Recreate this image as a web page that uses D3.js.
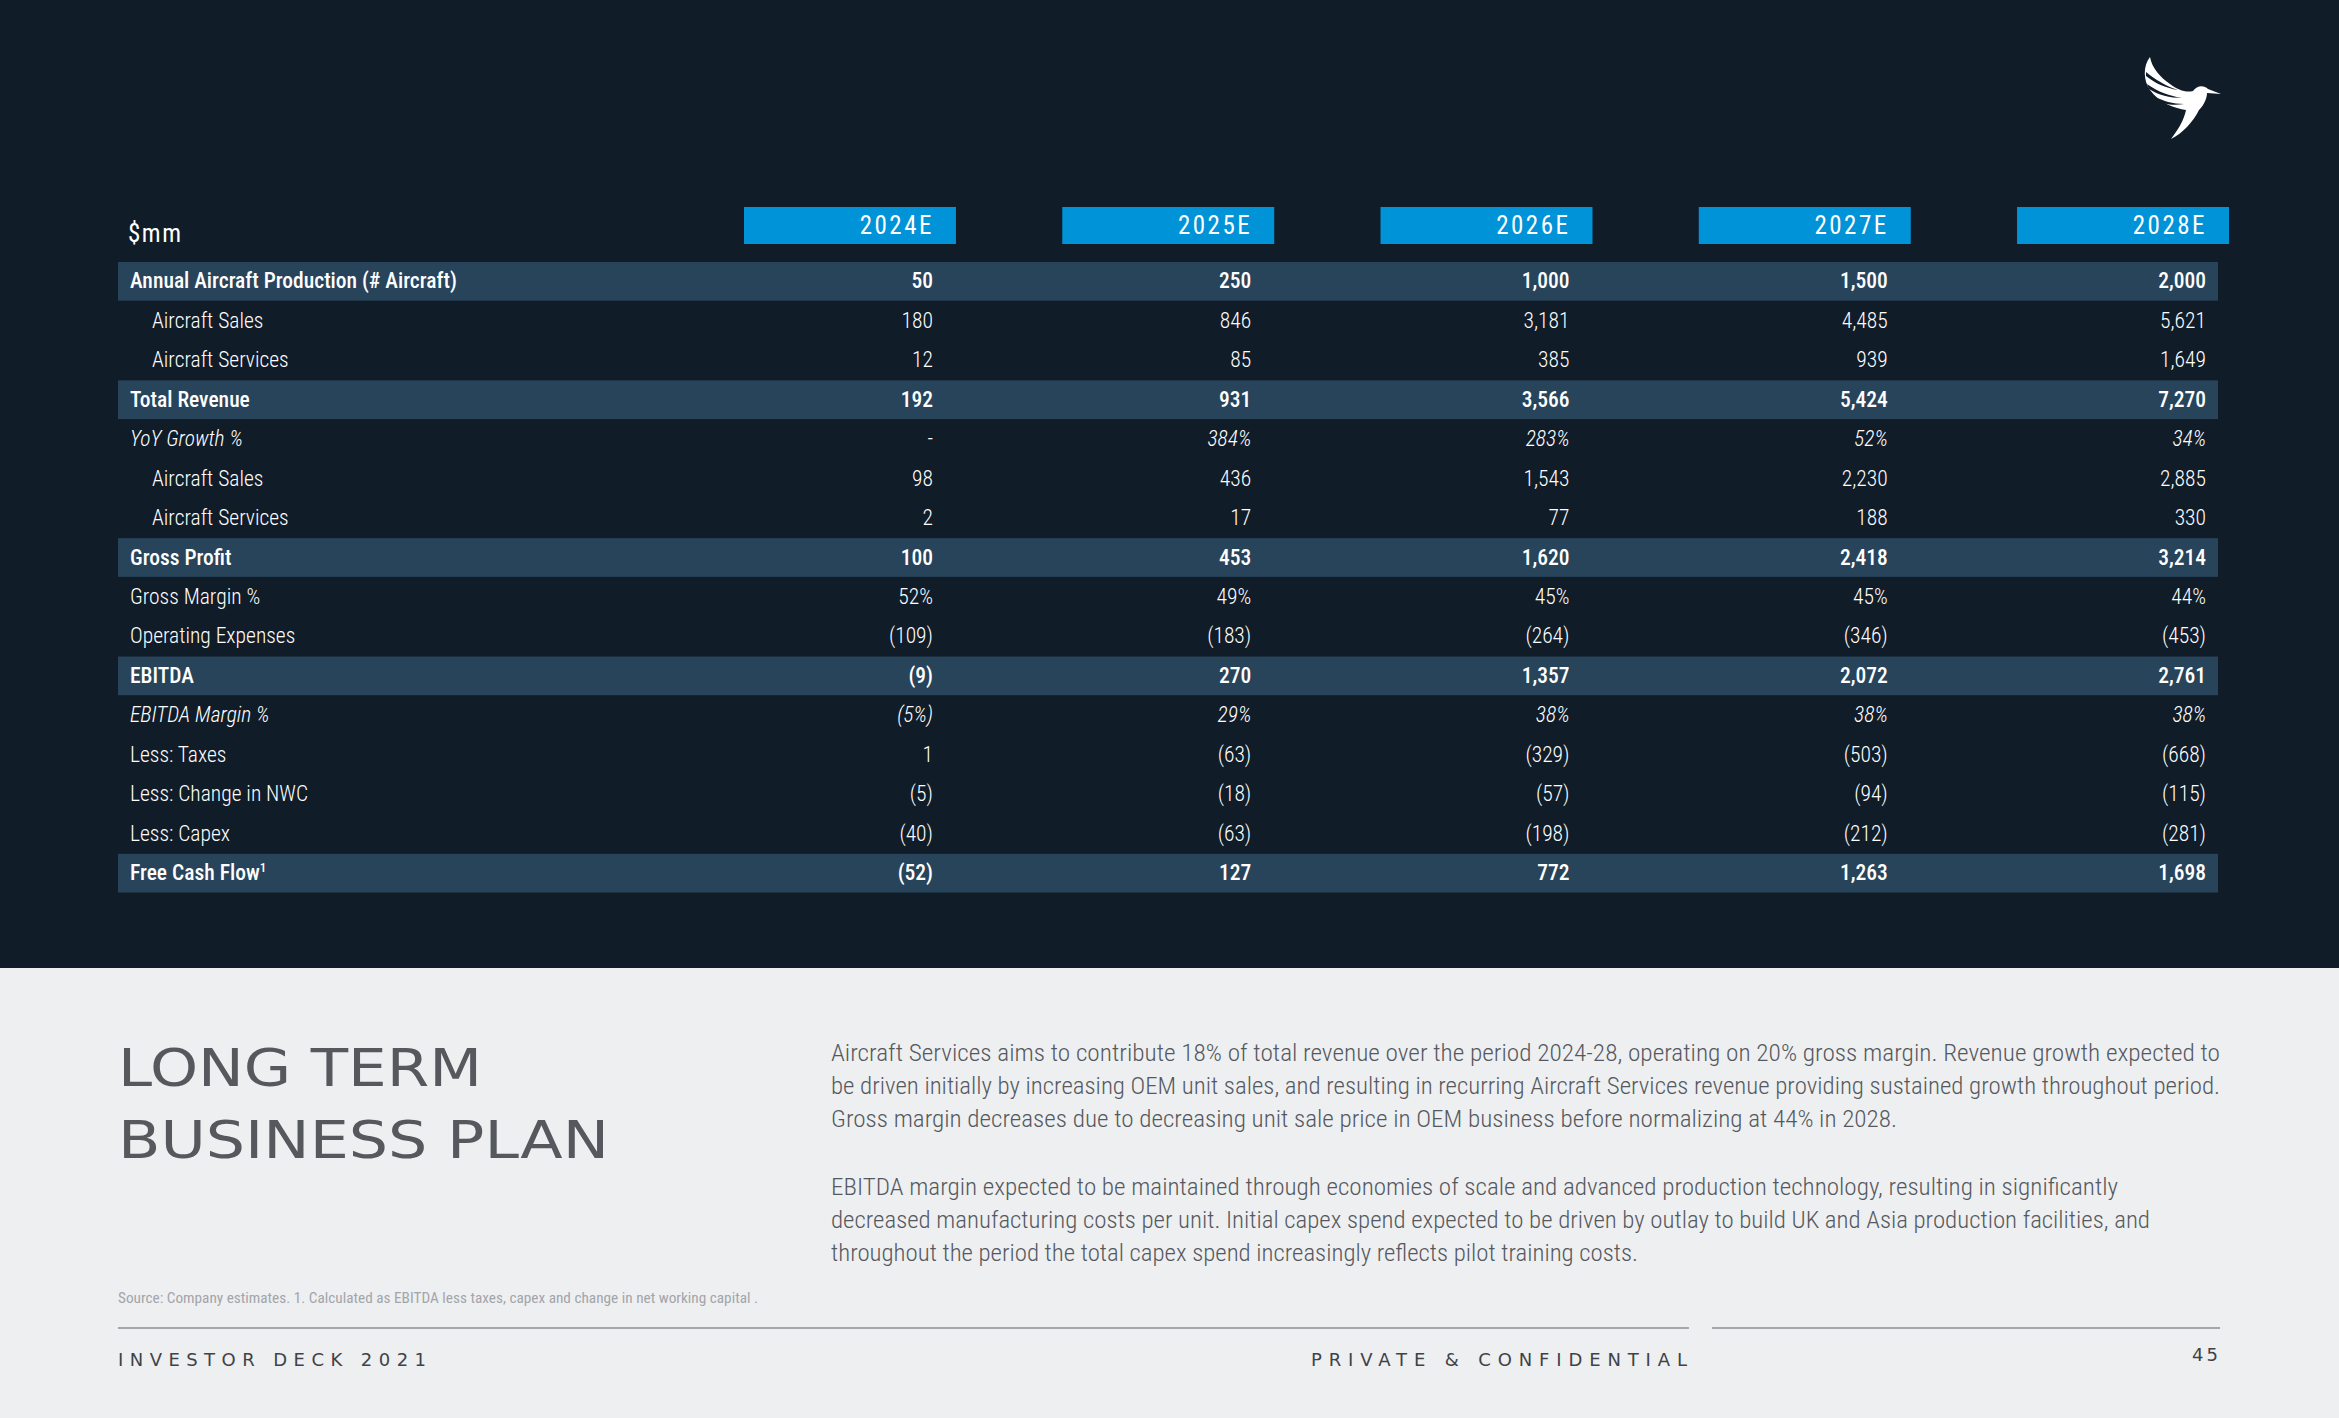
<!DOCTYPE html>
<html><head><meta charset="utf-8">
<script src="https://cdn.jsdelivr.net/npm/d3@7"></script>
<style>
html,body{margin:0;padding:0;background:#eeeff1;}
svg{display:block;}
.cond{font-family:"Liberation Sans Narrow","Roboto Condensed","Arial Narrow","Liberation Sans",sans-serif;font-stretch:condensed;}
</style></head>
<body>
<svg id="chart" width="2339" height="1418"></svg>
<script>
// ---------- DATA ----------
const years = ["2024E","2025E","2026E","2027E","2028E"];
const rowLabels = ["Annual Aircraft Production (# Aircraft)","Aircraft Sales","Aircraft Services","Total Revenue","YoY Growth %","Aircraft Sales","Aircraft Services","Gross Profit","Gross Margin %","Operating Expenses","EBITDA","EBITDA Margin %","Less: Taxes","Less: Change in NWC","Less: Capex","Free Cash Flow"];
const rowKinds = ["band","indent","indent","band","italic","indent","indent","band","plain","plain","band","italic","plain","plain","plain","band"];
const rowIsPct = [false,false,false,false,true,false,false,false,true,false,false,true,false,false,false,false];
const production = [50,250,1000,1500,2000];
const revAircraftSales = [180,846,3181,4485,5621];
const revAircraftServices = [12,85,385,939,1649];
const totalRevenue = [192,931,3566,5424,7270];
const yoyGrowth = [null,384,283,52,34];
const gpAircraftSales = [98,436,1543,2230,2885];
const gpAircraftServices = [2,17,77,188,330];
const grossProfit = [100,453,1620,2418,3214];
const grossMargin = [52,49,45,45,44];
const opex = [-109,-183,-264,-346,-453];
const ebitda = [-9,270,1357,2072,2761];
const ebitdaMargin = [-5,29,38,38,38];
const taxes = [1,-63,-329,-503,-668];
const changeNWC = [-5,-18,-57,-94,-115];
const capex = [-40,-63,-198,-212,-281];
const freeCashFlow = [-52,127,772,1263,1698];
const tableValues = [production,revAircraftSales,revAircraftServices,totalRevenue,yoyGrowth,gpAircraftSales,gpAircraftServices,grossProfit,grossMargin,opex,ebitda,ebitdaMargin,taxes,changeNWC,capex,freeCashFlow];

const paragraph1 = ["Aircraft Services aims to contribute 18% of total revenue over the period 2024-28, operating on 20% gross margin. Revenue growth expected to",
"be driven initially by increasing OEM unit sales, and resulting in recurring Aircraft Services revenue providing sustained growth throughout period.",
"Gross margin decreases due to decreasing unit sale price in OEM business before normalizing at 44% in 2028."];
const paragraph2 = ["EBITDA margin expected to be maintained through economies of scale and advanced production technology, resulting in significantly",
"decreased manufacturing costs per unit. Initial capex spend expected to be driven by outlay to build UK and Asia production facilities, and",
"throughout the period the total capex spend increasingly reflects pilot training costs."];

// ---------- DRAW ----------
const svg = d3.select("#chart");
const W = 2339, H = 1418;
const C = {dark:"#111c29", band:"#27445b", blue:"#0093d7", light:"#eeeff1", grayText:"#55595f", line:"#a3a6aa"};

svg.append("rect").attr("x",0).attr("y",0).attr("width",W).attr("height",968).attr("fill",C.dark);
svg.append("rect").attr("x",0).attr("y",968).attr("width",W).attr("height",H-968).attr("fill",C.light);

// scales
const x = d3.scaleBand().domain(years).range([744,2229]).paddingInner(0.334).paddingOuter(0);
const y = d3.scaleBand().domain(d3.range(rowLabels.length)).range([262,892.5]).paddingInner(0.02).paddingOuter(0);
const tableLeft = 118, tableRight = 2218;

const fmtNum = d3.format(",");
function fmt(v, pct){
  if (v === null || v === undefined) return "-";
  const s = fmtNum(Math.abs(v)) + (pct ? "%" : "");
  return v < 0 ? "(" + s + ")" : s;
}

// header
svg.append("text").attr("class","cond").attr("x",128).attr("y",242)
  .attr("fill","#fff").attr("font-size",25).attr("font-weight",400).attr("letter-spacing",1.5).text("$mm");

const hdr = svg.append("g");
hdr.selectAll("rect").data(years).join("rect")
  .attr("x",d=>x(d)).attr("y",207).attr("width",x.bandwidth()).attr("height",37).attr("fill",C.blue);
hdr.selectAll("text").data(years).join("text")
  .attr("class","cond")
  .attr("x",d=>x(d)+x.bandwidth()-22).attr("y",234).attr("text-anchor","end")
  .attr("fill","#fff").attr("font-size",25).attr("font-weight",400).attr("letter-spacing",2.5).text(d=>d);

// bands
const rows = svg.append("g");
rows.selectAll("rect.band").data(d3.range(rowLabels.length).filter(i=>rowKinds[i]==="band")).join("rect")
  .attr("class","band").attr("x",tableLeft).attr("width",tableRight-tableLeft)
  .attr("y",i=>y(i)).attr("height",y.bandwidth()).attr("fill",C.band);

// labels
const labels = rows.selectAll("text.lab").data(d3.range(rowLabels.length)).join("text")
  .attr("class","lab cond")
  .attr("x",i=>rowKinds[i]==="indent"?152:130)
  .attr("y",i=>y(i)+y.bandwidth()/2+7)
  .attr("fill","#fff").attr("font-size",21.5)
  .attr("font-weight",i=>rowKinds[i]==="band"?500:300)
  .attr("font-style",i=>rowKinds[i]==="italic"?"italic":"normal")
  .text(i=>rowLabels[i]);
labels.filter(i=>i===rowLabels.length-1).append("tspan")
  .attr("font-size",13).attr("dy",-8).text("1");

// values
const cells = [];
tableValues.forEach((arr,i)=>arr.forEach((v,j)=>cells.push({i, year:years[j], v})));
rows.selectAll("text.val").data(cells).join("text")
  .attr("class","val cond")
  .attr("x",d=>x(d.year)+x.bandwidth()-23)
  .attr("y",d=>y(d.i)+y.bandwidth()/2+7)
  .attr("text-anchor","end").attr("fill","#fff").attr("font-size",21.5)
  .attr("font-weight",d=>rowKinds[d.i]==="band"?500:300)
  .attr("font-style",d=>rowKinds[d.i]==="italic"?"italic":"normal")
  .text(d=>fmt(d.v,rowIsPct[d.i]));

// logo (stylised bird)
const logo = svg.append("g").attr("fill","#fff");
logo.append("path").attr("d",
 "M2150,57 C2143,66 2143,80 2150,90 C2160,104 2175,108 2186,110 C2184,120 2178,130 2171,139 C2183,133 2193,122 2199,110 C2205,104 2207,97 2207,93 L2221,94 L2208,89 C2204,85 2197,85 2193,91 C2186,93 2178,90 2170,84 C2160,77 2152,68 2150,57 Z");
logo.append("path").attr("fill",C.dark).attr("d","M2146,72 C2156,80 2166,86 2178,90 C2166,88 2156,84 2146,76 Z");
logo.append("path").attr("fill",C.dark).attr("d","M2147,84 C2158,92 2170,96 2182,98 C2170,98 2158,95 2149,89 Z");
logo.append("path").attr("fill",C.dark).attr("d","M2153,96 C2163,101 2173,104 2184,104 C2173,106 2162,104 2155,100 Z");

// title
const title = svg.append("g").attr("fill","#55585d").attr("font-family","'DejaVu Sans',sans-serif").attr("font-size",52);
title.append("text").attr("x",118).attr("y",1086).attr("textLength",364).attr("lengthAdjust","spacingAndGlyphs").text("LONG TERM");
title.append("text").attr("x",118).attr("y",1158).attr("textLength",491).attr("lengthAdjust","spacingAndGlyphs").text("BUSINESS PLAN");

// paragraphs
const p1W = [1389,1389,1066], p2W=[1287,1319,807];
const para = svg.append("g").attr("class","cond").attr("fill",C.grayText).attr("font-size",23).attr("font-weight",300);
para.selectAll("text.p1").data(paragraph1).join("text").attr("class","p1")
  .attr("x",831).attr("y",(d,i)=>1061+i*33).attr("textLength",(d,i)=>p1W[i]).attr("lengthAdjust","spacingAndGlyphs").text(d=>d);
para.selectAll("text.p2").data(paragraph2).join("text").attr("class","p2")
  .attr("x",831).attr("y",(d,i)=>1195+i*33).attr("textLength",(d,i)=>p2W[i]).attr("lengthAdjust","spacingAndGlyphs").text(d=>d);

// source
svg.append("text").attr("class","cond").attr("x",118).attr("y",1303).attr("fill","#a2a5aa").attr("font-size",14)
  .attr("textLength",640).attr("lengthAdjust","spacingAndGlyphs")
  .text("Source: Company estimates. 1. Calculated as EBITDA less taxes, capex and change in net working capital .");

// footer lines
svg.append("line").attr("x1",118).attr("x2",1689).attr("y1",1328).attr("y2",1328).attr("stroke",C.line).attr("stroke-width",2);
svg.append("line").attr("x1",1712).attr("x2",2220).attr("y1",1328).attr("y2",1328).attr("stroke",C.line).attr("stroke-width",2);

const foot = svg.append("g").attr("fill","#3f4348").attr("font-family","'DejaVu Sans',sans-serif").attr("font-size",18);
foot.append("text").attr("x",118).attr("y",1366).attr("textLength",308).attr("lengthAdjust","spacing").text("INVESTOR DECK 2021");
foot.append("text").attr("x",1311).attr("y",1366).attr("textLength",376).attr("lengthAdjust","spacing").text("PRIVATE & CONFIDENTIAL");
foot.append("text").attr("x",2221).attr("y",1361).attr("text-anchor","end").attr("letter-spacing",3).text("45");
</script>
</body></html>
